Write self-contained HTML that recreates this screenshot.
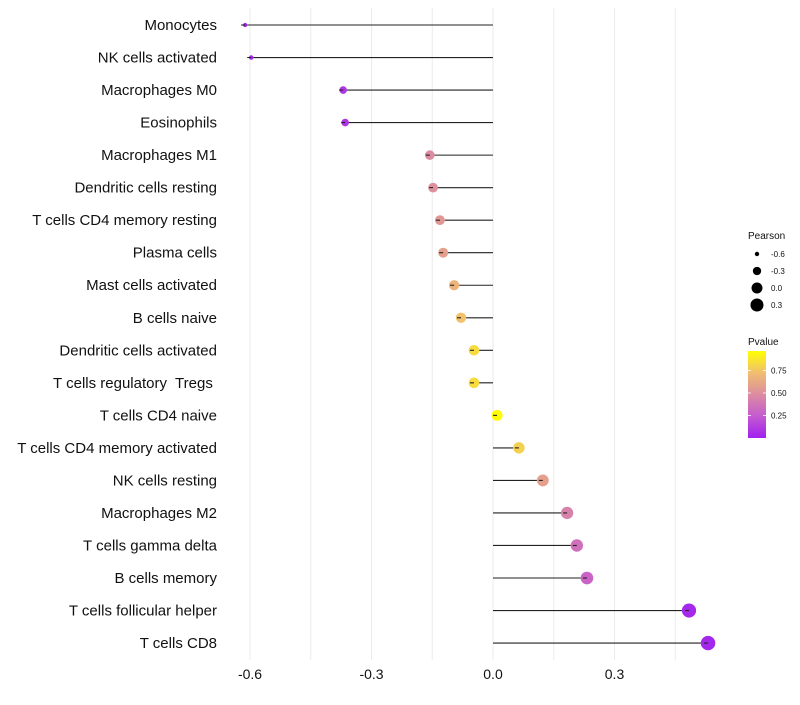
<!DOCTYPE html>
<html><head><meta charset="utf-8"><style>
body{margin:0;background:#fff;font-family:"Liberation Sans",sans-serif}
text{white-space:pre}
</style></head><body>
<svg id="c" width="800" height="700" xmlns="http://www.w3.org/2000/svg"></svg>
<script>
const categories=["Monocytes","NK cells activated","Macrophages M0","Eosinophils","Macrophages M1","Dendritic cells resting","T cells CD4 memory resting","Plasma cells","Mast cells activated","B cells naive","Dendritic cells activated","T cells regulatory  Tregs ","T cells CD4 naive","T cells CD4 memory activated","NK cells resting","Macrophages M2","T cells gamma delta","B cells memory","T cells follicular helper","T cells CD8"];
const pearson=[-0.612,-0.597,-0.370,-0.365,-0.156,-0.148,-0.131,-0.123,-0.096,-0.079,-0.047,-0.047,0.010,0.064,0.123,0.183,0.207,0.232,0.484,0.531];
const pvalues=[0.02,0.03,0.1,0.1,0.5,0.52,0.56,0.6,0.7,0.76,0.86,0.86,0.99,0.82,0.6,0.45,0.36,0.3,0.04,0.03];
const xTicks=[-0.6,-0.3,0.0,0.3];
const xTickLabels=["-0.6","-0.3","0.0","0.3"];
const sizeLegend=[-0.6,-0.3,0.0,0.3];
const sizeLegendLabels=["-0.6","-0.3","0.0","0.3"];
const colorLegend=[0.25,0.5,0.75];
const colorLegendLabels=["0.25","0.50","0.75"];

const svg=document.getElementById('c');
const NS="http://www.w3.org/2000/svg";
const xs=v=>493+v*405;
const ys=i=>25+i*32.53;
const rs=v=>Math.sqrt(Math.max(4,30+42*v));
const stops=[[0,[160,32,240]],[0.25,[196,90,208]],[0.5,[220,140,160]],[0.75,[240,190,112]],[1,[255,255,0]]];
function col(p){for(let i=0;i<stops.length-1;i++){const a=stops[i],b=stops[i+1];if(p<=b[0]){const t=(p-a[0])/(b[0]-a[0]);const c=a[1].map((v,k)=>Math.round(v+(b[1][k]-v)*t));return`rgb(${c})`;}}return'rgb(255,255,0)';}
function el(t,a,txt){const e=document.createElementNS(NS,t);for(const k in a)e.setAttribute(k,a[k]);if(txt!==undefined)e.textContent=txt;svg.appendChild(e);return e;}
for(let v=-0.6;v<=0.56;v+=0.15){const g=el('line',{x1:xs(v),x2:xs(v),y1:8,y2:660,stroke:'#ebebeb','stroke-width':1});

}
xTicks.forEach((v,i)=>{const t=el('text',{x:xs(v),y:679,'text-anchor':'middle','font-size':14,fill:'#111'},xTickLabels[i]);

});
categories.forEach((c,i)=>{const y=ys(i);
const t=el('text',{x:217,y:y+5,'text-anchor':'end','font-size':15,fill:'#111'},c);


const l=el('line',{x1:xs(0),x2:xs(pearson[i]),y1:y,y2:y,stroke:'#222','stroke-width':1.1});


const d=el('circle',{cx:xs(pearson[i]),cy:y,r:rs(pearson[i]),fill:col(pvalues[i])});


const tk=el('line',{x1:xs(pearson[i])-4,x2:xs(pearson[i]),y1:y,y2:y,stroke:'#222','stroke-width':1.1});


});
const pt=el('text',{x:748,y:239,'font-size':10,fill:'#111'},'Pearson');


sizeLegend.forEach((v,i)=>{const y=254+i*17;
const c=el('circle',{cx:757,cy:y,r:rs(v),fill:'#000'});


const t=el('text',{x:771,y:y+3,'font-size':8,fill:'#111'},sizeLegendLabels[i]);

});
const vt=el('text',{x:748,y:345,'font-size':10,fill:'#111'},'Pvalue');


const defs=el('defs',{});const lg=document.createElementNS(NS,'linearGradient');lg.setAttribute('id','pg');lg.setAttribute('x1','0');lg.setAttribute('y1','1');lg.setAttribute('x2','0');lg.setAttribute('y2','0');
stops.forEach(s=>{const st=document.createElementNS(NS,'stop');st.setAttribute('offset',s[0]);st.setAttribute('stop-color',`rgb(${s[1]})`);lg.appendChild(st);});defs.appendChild(lg);
const bar=el('rect',{x:748,y:351,width:18,height:87,fill:'url(#pg)'});


const cy=v=>438-v*90;
colorLegend.forEach((v,i)=>{
el('line',{x1:748,x2:751,y1:cy(v),y2:cy(v),stroke:'#fff','stroke-width':0.8});
el('line',{x1:763,x2:766,y1:cy(v),y2:cy(v),stroke:'#fff','stroke-width':0.8});
const t=el('text',{x:771,y:cy(v)+3,'font-size':8,fill:'#111'},colorLegendLabels[i]);

});
</script>
</body></html>
